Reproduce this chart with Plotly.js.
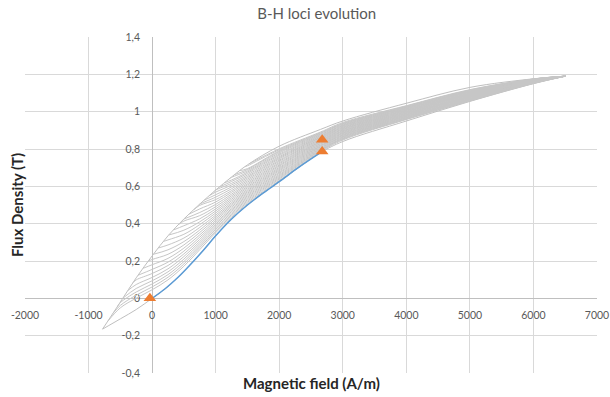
<!DOCTYPE html>
<html><head><meta charset="utf-8">
<script src="https://cdn.plot.ly/plotly-3.0.1.min.js"></script>
<style>html,body{margin:0;padding:0;background:#fff}#chart{width:610px;height:397px}</style>
</head><body><div id="chart"></div>
<script>
// common field grid (A/m) used by the envelope branches and the inner loci
const gridH = [-780,-500,-250,0,250,500,750,1000,1250,1500,2000,2650,3000,4000,5000,6000,6500];
// outer (upper) envelope, flux density (T)
const descB = [-0.165,-0.02,0.11,0.227,0.335,0.425,0.505,0.58,0.65,0.715,0.815,0.905,0.95,1.045,1.13,1.176,1.19];
// lower envelope
const ascB  = [-0.165,-0.11,-0.06,0,0.063,0.145,0.237,0.335,0.425,0.5,0.625,0.78,0.84,0.95,1.055,1.15,1.19];
// initial magnetization curve (blue)
const initH = [0,200,400,600,800,1000,1250,1500,1750,2000,2300,2650];
const initB = [0,0.05,0.11,0.18,0.255,0.335,0.425,0.5,0.565,0.625,0.7,0.78];
// orange markers
const markerH = [-35,2676,2676];
const markerB = [0,0.849,0.786];
// inner loci: start point on the outer envelope, then values at the following gridH points
const reversalH = [-700,-620,-540,-460,-380,-300,-220,-140,-60,20,100,180,260,340,420,500,580,660,740,820,900,980,1060,1140,1220,1300,1380,1460,1540];
const reversalB = [-0.124,-0.082,-0.041,0.001,0.042,0.084,0.124,0.161,0.199,0.236,0.27,0.305,0.339,0.367,0.396,0.425,0.451,0.476,0.502,0.526,0.55,0.574,0.597,0.619,0.642,0.663,0.684,0.705,0.723];
const forcB = [
 [-0.051,0.001,0.046,0.099,0.172,0.261,0.352,0.434,0.507,0.626,0.784,0.848,0.958,1.057,1.151,1.19],
 [-0.038,0.017,0.061,0.113,0.184,0.272,0.36,0.442,0.514,0.632,0.788,0.852,0.96,1.059,1.152,1.19],
 [-0.023,0.034,0.077,0.127,0.197,0.282,0.369,0.449,0.521,0.639,0.792,0.855,0.963,1.062,1.153,1.19],
 [0.053,0.094,0.142,0.21,0.293,0.378,0.457,0.528,0.645,0.795,0.858,0.966,1.064,1.154,1.19],
 [0.074,0.112,0.158,0.224,0.304,0.388,0.465,0.535,0.651,0.799,0.862,0.968,1.066,1.155,1.19],
 [0.099,0.133,0.176,0.238,0.316,0.397,0.473,0.542,0.657,0.803,0.865,0.971,1.068,1.156,1.19],
 [0.155,0.194,0.253,0.328,0.406,0.48,0.549,0.663,0.807,0.868,0.974,1.07,1.157,1.19],
 [0.18,0.214,0.269,0.34,0.416,0.489,0.556,0.67,0.811,0.872,0.976,1.072,1.158,1.19],
 [0.208,0.236,0.286,0.353,0.426,0.497,0.563,0.676,0.815,0.875,0.979,1.075,1.159,1.19],
 [0.26,0.304,0.366,0.436,0.505,0.57,0.683,0.818,0.878,0.982,1.077,1.16,1.19],
 [0.286,0.323,0.38,0.446,0.513,0.577,0.689,0.822,0.882,0.984,1.079,1.161,1.19],
 [0.313,0.343,0.395,0.457,0.522,0.584,0.695,0.826,0.885,0.987,1.081,1.162,1.19],
 [0.365,0.41,0.468,0.531,0.592,0.701,0.83,0.888,0.99,1.083,1.163,1.19],
 [0.389,0.426,0.479,0.54,0.599,0.708,0.834,0.892,0.992,1.085,1.164,1.19],
 [0.414,0.443,0.491,0.549,0.607,0.714,0.838,0.895,0.995,1.088,1.165,1.19],
 [0.46,0.503,0.558,0.614,0.721,0.841,0.898,0.998,1.09,1.166,1.19],
 [0.479,0.516,0.568,0.622,0.727,0.845,0.902,1.0,1.092,1.167,1.19],
 [0.498,0.529,0.577,0.63,0.734,0.849,0.905,1.003,1.094,1.168,1.19],
 [0.505,0.542,0.587,0.638,0.74,0.853,0.908,1.006,1.096,1.169,1.19],
 [0.555,0.597,0.646,0.747,0.857,0.912,1.008,1.098,1.17,1.19],
 [0.569,0.607,0.653,0.753,0.861,0.915,1.011,1.1,1.171,1.19],
 [0.58,0.616,0.661,0.759,0.864,0.918,1.014,1.103,1.172,1.19],
 [0.626,0.669,0.766,0.868,0.922,1.016,1.105,1.172,1.19],
 [0.634,0.676,0.772,0.872,0.925,1.019,1.107,1.173,1.19],
 [0.648,0.683,0.779,0.876,0.928,1.022,1.109,1.173,1.19],
 [0.69,0.785,0.88,0.932,1.024,1.111,1.174,1.19],
 [0.695,0.79,0.884,0.935,1.027,1.114,1.174,1.19],
 [0.71,0.796,0.887,0.938,1.03,1.116,1.175,1.19],
 [0.801,0.891,0.942,1.032,1.118,1.175,1.19]
];
const xTickVals = [-2000,-1000,0,1000,2000,3000,4000,5000,6000,7000];
const xTickText = ['-2000','-1000','0','1000','2000','3000','4000','5000','6000','7000'];
const yTickVals = [-0.4,-0.2,0,0.2,0.4,0.6,0.8,1,1.2,1.4];
const yTickText = ['-0,4','-0,2','0','0,2','0,4','0,6','0,8','1','1,2','1,4'];

const envLine = {color: '#BFBFBF', width: 1, shape: 'spline', smoothing: 1};
const innerLine = {color: '#C6C6C6', width: 1, shape: 'spline', smoothing: 1};
const traces = [];
traces.push({x: gridH, y: descB, mode: 'lines', line: envLine, hoverinfo: 'skip'});
traces.push({x: gridH, y: ascB, mode: 'lines', line: envLine, hoverinfo: 'skip'});
reversalH.forEach((hr, i) => {
  const hs = gridH.filter(h => h > hr);
  traces.push({x: [hr].concat(hs), y: [reversalB[i]].concat(forcB[i]), mode: 'lines', line: innerLine, hoverinfo: 'skip'});
});
traces.push({x: initH, y: initB, mode: 'lines', line: {color: '#5B9BD5', width: 1.5, shape: 'spline', smoothing: 1}, hoverinfo: 'skip'});
traces.push({x: markerH, y: markerB, mode: 'markers', marker: {symbol: 'triangle-up', size: 11, color: '#ED7D31'}, hoverinfo: 'skip'});

const tickFont = {family: 'Lato, sans-serif', size: 10.5, color: '#595959'};
const layout = {
  width: 610, height: 397,
  margin: {l: 25, r: 13, t: 37, b: 24},
  paper_bgcolor: '#ffffff', plot_bgcolor: '#ffffff',
  showlegend: false,
  title: {text: 'B-H loci evolution', font: {family: 'Lato, sans-serif', size: 15, color: '#595959'},
          x: 0.51, xanchor: 'center', xref: 'paper', y: 1 - 14/397, yanchor: 'middle', yref: 'container'},
  xaxis: {range: [-2000, 7000], tickvals: xTickVals, ticktext: xTickText, showgrid: true, gridcolor: '#D9D9D9', gridwidth: 1,
          zeroline: false, showline: true, linecolor: '#BFBFBF', linewidth: 1, anchor: 'free', position: 0.4/1.8,
          layer: 'below traces', ticks: '', tickfont: tickFont, ticklabelstandoff: 7, fixedrange: true},
  yaxis: {range: [-0.4, 1.4], tickvals: yTickVals, ticktext: yTickText, showgrid: true, gridcolor: '#D9D9D9', gridwidth: 1,
          zeroline: false, showline: true, linecolor: '#BFBFBF', linewidth: 1, anchor: 'free', position: 2000/9000,
          layer: 'below traces', ticks: '', tickfont: tickFont, ticklabelstandoff: 10, fixedrange: true},
  annotations: [
    {text: '<b>Magnetic field (A/m)</b>', xref: 'paper', yref: 'paper', x: 0.5, y: -10/336, xanchor: 'center', yanchor: 'middle',
     showarrow: false, font: {family: 'Lato, sans-serif', size: 15, color: '#262626'}},
    {text: '<b>Flux Density (T)</b>', xref: 'paper', yref: 'paper', x: -8/572, y: 0.5, xanchor: 'center', yanchor: 'middle',
     textangle: -90, showarrow: false, font: {family: 'Lato, sans-serif', size: 15, color: '#262626'}}
  ]
};
Plotly.newPlot('chart', traces, layout, {displayModeBar: false, staticPlot: true});
</script>
</body></html>
